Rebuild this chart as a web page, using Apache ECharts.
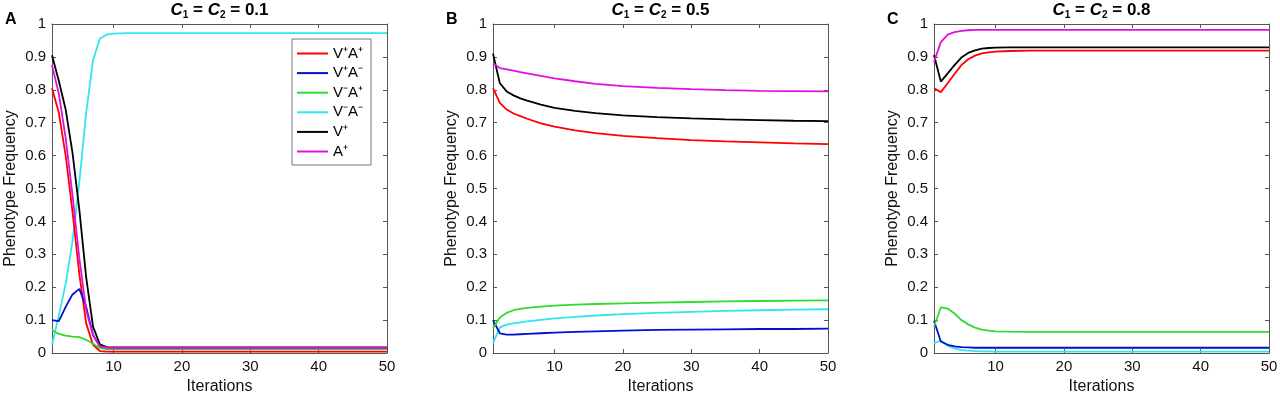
<!DOCTYPE html>
<html>
<head>
<meta charset="utf-8">
<script src="https://cdn.jsdelivr.net/npm/echarts@6/dist/echarts.min.js"></script>
<style>
html,body{margin:0;padding:0;background:#fff}
#chart{width:1280px;height:397px}
</style>
</head>
<body>
<div id="chart"></div>
<script>
// series names (legend) and tick labels
const seriesNames = ['V⁺A⁺', 'V⁺A⁻', 'V⁻A⁺', 'V⁻A⁻', 'V⁺', 'A⁺']
const xTickValues = [10, 20, 30, 40, 50]
const panelTitles = ['0.1', '0.5', '0.8']
const panelLetters = ['A', 'B', 'C']

// panel A : C1 = C2 = 0.1
const itersA = [1, 2, 3, 4, 5, 6, 7, 8, 9, 10, 12, 50]
const a_VpAp = [0.805, 0.73, 0.60, 0.43, 0.24, 0.09, 0.025, 0.006, 0.004, 0.004, 0.004, 0.004]
const a_VpAm = [0.10, 0.097, 0.14, 0.178, 0.195, 0.14, 0.055, 0.02, 0.014, 0.013, 0.013, 0.013]
const a_VmAp = [0.07, 0.058, 0.053, 0.05, 0.048, 0.04, 0.028, 0.015, 0.012, 0.012, 0.012, 0.012]
const a_VmAm = [0.025, 0.115, 0.21, 0.34, 0.52, 0.73, 0.89, 0.955, 0.968, 0.971, 0.972, 0.972]
const a_Vp = [0.905, 0.827, 0.74, 0.608, 0.435, 0.23, 0.08, 0.026, 0.018, 0.017, 0.017, 0.017]
const a_Ap = [0.875, 0.788, 0.653, 0.48, 0.288, 0.13, 0.053, 0.021, 0.016, 0.016, 0.016, 0.016]

// panel B : C1 = C2 = 0.5
const itersB = [1, 2, 3, 4, 5, 6, 8, 10, 13, 16, 20, 25, 30, 35, 40, 45, 50]
const b_VpAp = [0.805, 0.76, 0.74, 0.728, 0.72, 0.712, 0.698, 0.688, 0.677, 0.668, 0.66, 0.653, 0.647, 0.643, 0.64, 0.637, 0.635]
const b_VpAm = [0.10, 0.06, 0.056, 0.056, 0.057, 0.058, 0.06, 0.062, 0.064, 0.066, 0.068, 0.07, 0.071, 0.072, 0.073, 0.073, 0.074]
const b_VmAp = [0.075, 0.108, 0.122, 0.13, 0.134, 0.137, 0.141, 0.144, 0.147, 0.149, 0.151, 0.153, 0.155, 0.157, 0.158, 0.159, 0.16]
const b_VmAm = [0.03, 0.078, 0.086, 0.09, 0.093, 0.096, 0.101, 0.105, 0.11, 0.114, 0.118, 0.122, 0.125, 0.128, 0.13, 0.132, 0.133]
const b_Vp = [0.91, 0.82, 0.795, 0.783, 0.774, 0.767, 0.755, 0.745, 0.736, 0.729, 0.722, 0.717, 0.713, 0.71, 0.708, 0.706, 0.705]
const b_Ap = [0.88, 0.866, 0.862, 0.858, 0.854, 0.85, 0.842, 0.835, 0.826, 0.818, 0.811, 0.806, 0.802, 0.799, 0.797, 0.796, 0.795]

// panel C : C1 = C2 = 0.8
const itersC = [1, 2, 3, 4, 5, 6, 7, 8, 9, 10, 12, 15, 20, 50]
const c_VpAp = [0.805, 0.793, 0.82, 0.848, 0.875, 0.893, 0.904, 0.911, 0.914, 0.916, 0.918, 0.919, 0.919, 0.919]
const c_VpAm = [0.098, 0.035, 0.025, 0.02, 0.018, 0.017, 0.016, 0.016, 0.016, 0.016, 0.016, 0.016, 0.016, 0.016]
const c_VmAp = [0.08, 0.139, 0.135, 0.12, 0.10, 0.087, 0.077, 0.071, 0.068, 0.066, 0.065, 0.064, 0.064, 0.064]
const c_VmAm = [0.03, 0.038, 0.022, 0.014, 0.009, 0.007, 0.006, 0.005, 0.005, 0.004, 0.004, 0.004, 0.004, 0.004]
const c_Vp = [0.906, 0.825, 0.85, 0.875, 0.898, 0.912, 0.92, 0.925, 0.927, 0.928, 0.929, 0.929, 0.929, 0.929]
const c_Ap = [0.885, 0.945, 0.968, 0.975, 0.979, 0.981, 0.982, 0.982, 0.982, 0.982, 0.982, 0.982, 0.982, 0.982]

const panels = [
	{ iters: itersA, values: [a_VpAp, a_VpAm, a_VmAp, a_VmAm, a_Vp, a_Ap] },
	{ iters: itersB, values: [b_VpAp, b_VpAm, b_VmAp, b_VmAm, b_Vp, b_Ap] },
	{ iters: itersC, values: [c_VpAp, c_VpAm, c_VmAp, c_VmAm, c_Vp, c_Ap] }
]

const lineColors = ['#ff0000', '#0010d0', '#2edb2e', '#30e6ee', '#000000', '#e010e0']
const gridLefts = [52, 493, 934]
const gridWidth = 335
const axisColor = '#555'
const font = 'Liberation Sans, Arial, Helvetica, sans-serif'

let grids = [], xAxes = [], yAxes = [], series = [], titles = []

panels.forEach((p, k) => {
	grids.push({ left: gridLefts[k], top: 24, width: gridWidth, height: 329, outerBoundsMode: 'none' })
	// bottom + top x axes (box)
	xAxes.push({
		gridIndex: k, type: 'value', min: 1, max: 50, position: 'bottom',
		name: 'Iterations', nameLocation: 'middle', nameGap: 26,
		nameTextStyle: { fontSize: 16, color: '#111', fontFamily: font },
		axisLine: { show: true, onZero: false, lineStyle: { color: axisColor, width: 1 } },
		axisTick: { show: true, inside: true, length: 4, customValues: xTickValues, lineStyle: { color: axisColor } },
		axisLabel: { show: true, customValues: xTickValues, fontSize: 15, color: '#111', margin: 6, fontFamily: font },
		splitLine: { show: false }
	})
	xAxes.push({
		gridIndex: k, type: 'value', min: 1, max: 50, position: 'top',
		axisLine: { show: true, onZero: false, lineStyle: { color: axisColor, width: 1 } },
		axisTick: { show: true, inside: true, length: 4, customValues: xTickValues, lineStyle: { color: axisColor } },
		axisLabel: { show: false },
		splitLine: { show: false }
	})
	yAxes.push({
		gridIndex: k, type: 'value', min: 0, max: 1, interval: 0.1, position: 'left',
		name: 'Phenotype Frequency', nameLocation: 'middle', nameGap: 33,
		nameTextStyle: { fontSize: 16, color: '#111', fontFamily: font },
		axisLine: { show: true, onZero: false, lineStyle: { color: axisColor, width: 1 } },
		axisTick: { show: true, inside: true, length: 4, lineStyle: { color: axisColor } },
		axisLabel: { fontSize: 15, color: '#111', margin: 6, fontFamily: font },
		splitLine: { show: false }
	})
	yAxes.push({
		gridIndex: k, type: 'value', min: 0, max: 1, interval: 0.1, position: 'right',
		axisLine: { show: true, onZero: false, lineStyle: { color: axisColor, width: 1 } },
		axisTick: { show: true, inside: true, length: 4, lineStyle: { color: axisColor } },
		axisLabel: { show: false },
		splitLine: { show: false }
	})
	p.values.forEach((vals, s) => {
		series.push({
			name: seriesNames[s],
			type: 'line',
			xAxisIndex: k * 2,
			yAxisIndex: k * 2,
			symbol: 'none',
			animation: false,
			color: lineColors[s],
			lineStyle: { width: 1.8, color: lineColors[s] },
			z: s === 3 ? 1 : 2,
			data: p.iters.map((it, i) => [it, vals[i]])
		})
	})
	titles.push({
		text: '{i|C}{s|1}{b| = }{i|C}{s|2}{b| = ' + panelTitles[k] + '}',
		left: gridLefts[k] + gridWidth / 2,
		textAlign: 'center',
		top: 0,
		padding: 0,
		textStyle: {
			fontFamily: font,
			rich: {
				i: { fontSize: 17, fontWeight: 'bold', fontStyle: 'italic', color: '#000', lineHeight: 20, fontFamily: font },
				s: { fontSize: 10, fontWeight: 'bold', color: '#000', lineHeight: 20, verticalAlign: 'bottom', fontFamily: font },
				b: { fontSize: 17, fontWeight: 'bold', color: '#000', lineHeight: 20, fontFamily: font }
			}
		}
	})
	titles.push({
		text: panelLetters[k],
		left: gridLefts[k] - 47,
		top: 12,
		padding: 0,
		textStyle: { fontSize: 16, fontWeight: 'bold', color: '#000', fontFamily: font }
	})
})

const chart = echarts.init(document.getElementById('chart'))
chart.setOption({
	animation: false,
	backgroundColor: '#fff',
	title: titles,
	grid: grids,
	xAxis: xAxes,
	yAxis: yAxes,
	legend: {
		data: seriesNames,
		orient: 'vertical',
		left: 292,
		top: 39,
		padding: [7, 8, 6, 5],
		icon: 'rect',
		itemGap: 4.6,
		itemWidth: 31,
		itemHeight: 2,
		selectedMode: false,
		backgroundColor: '#fff',
		borderColor: '#777',
		borderWidth: 1,
		borderRadius: 0,
		textStyle: { fontSize: 15, lineHeight: 14, color: '#000', fontFamily: font }
	},
	series: series
})
</script>
</body>
</html>
